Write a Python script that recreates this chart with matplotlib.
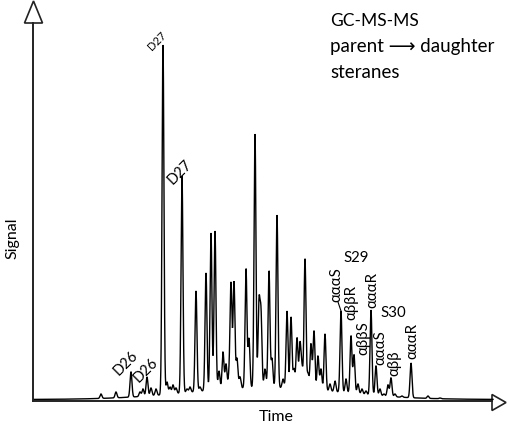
import numpy as np
import matplotlib
matplotlib.use("Agg")
import matplotlib.pyplot as plt
from matplotlib.patches import Polygon

plt.rcParams['font.family'] = ['Lato', 'DejaVu Sans']

# ---- data: peak retention times (arbitrary time units) and apex intensities ----
peak_time = [68, 83, 98, 107, 110, 114, 118, 123, 130, 134, 137, 140, 143, 149, 154, 157,
             163, 167, 173, 178, 182, 186, 190, 193, 196, 198, 201, 204, 207, 213, 216,
             222, 226, 228, 232, 236, 239, 244, 250, 254, 258, 261, 264, 267, 269, 272,
             275, 278, 281, 285, 288, 292, 297, 302, 308, 313, 318, 321, 325, 329, 333,
             338, 343, 347, 351, 355, 358, 362, 369, 378, 387, 395, 407]
peak_height = [7, 9, 29, 9, 12, 24, 13, 12, 356, 19, 14, 16, 13, 225, 12, 14,
               110, 14, 128, 168, 170, 30, 49, 37, 24, 117, 119, 42, 24, 132, 62,
               267, 96, 85, 32, 130, 42, 186, 22, 90, 84, 32, 63, 57, 32, 142,
               27, 57, 70, 45, 32, 67, 17, 20, 90, 22, 65, 46, 17, 12, 10,
               91, 35, 12, 7, 16, 23, 7, 5, 38, 3, 5, 3]

labels = ["D26", "D26", "D27", "D27", "S29", "αααS", "αββR", "αββS", "αααR",
          "S30", "αααS", "αββ", "αααR"]

# broad unresolved hump under the peaks
hump_center, hump_amp, hump_sigma, base_offset = 232, 12, 75, 1.5

t = np.linspace(0, 460, 9201)


def baseline(x):
    return base_offset + hump_amp * np.exp(-(np.asarray(x) - hump_center) ** 2 / (2 * hump_sigma ** 2))


signal = baseline(t)
sig = 0.95
for pt, ph in zip(peak_time, peak_height):
    amp = ph - baseline(pt)
    signal = signal + amp * np.exp(-(t - pt) ** 2 / (2 * sig ** 2))

W, H = 507, 427
fig = plt.figure(figsize=(W / 100, H / 100), dpi=100)
ax = fig.add_axes([33 / W, 25 / H, 474 / W, 402 / H])
ax.set_xlim(0, 474)
ax.set_ylim(0, 402)
ax.axis('off')

ax.plot(t, signal, color='black', lw=1.0, solid_joinstyle='miter')

# axes with hollow arrow heads
axc = '#222222'
ax.plot([0, 0], [0, 378], color=axc, lw=1.4, clip_on=False)
ax.add_patch(Polygon([[-8.5, 378], [9.5, 378], [0.5, 400]], closed=True, fc='white',
                     ec=axc, lw=1.2, clip_on=False))
ax.plot([0, 459], [0, 0], color=axc, lw=1.4, clip_on=False)
ax.add_patch(Polygon([[459, 6.5], [459, -9.5], [473, -1.5]], closed=True, fc='white',
                     ec=axc, lw=1.2, clip_on=False))

ax.text(-21, 164, "Signal", rotation=90, ha='center', va='center', fontsize=11.5)
ax.text(243, -15, "Time", ha='center', va='center', fontsize=11.5)

ax.text(297, 376, "GC-MS-MS", ha='left', va='baseline', fontsize=12.5)
ax.text(297, 350, "parent ⟶ daughter", ha='left', va='baseline', fontsize=13.5)
ax.text(297, 324, "steranes", ha='left', va='baseline', fontsize=13.5)

fs = 10.8
lab_pos = [(93, 39, 45, 10.5), (113, 32, 45, 10.5), (124, 361, 45, 8), (147, 230, 45, 10.5),
           (323, 144, 0, fs), (303, 117, 90, fs), (318, 99, 90, fs), (330, 64, 90, fs),
           (339, 112, 90, fs), (360, 89, 0, fs), (347, 54, 90, fs), (361, 39, 90, fs),
           (379, 61, 90, fs)]
for lab, (x, y, rot, s) in zip(labels, lab_pos):
    ax.text(x, y, lab, rotation=rot, ha='center', va='center', fontsize=s,
            rotation_mode='anchor')

# leader line for S29 αααS
ax.plot([305, 308], [99, 90], color='black', lw=0.8)

fig.savefig("out.png", dpi=100)
